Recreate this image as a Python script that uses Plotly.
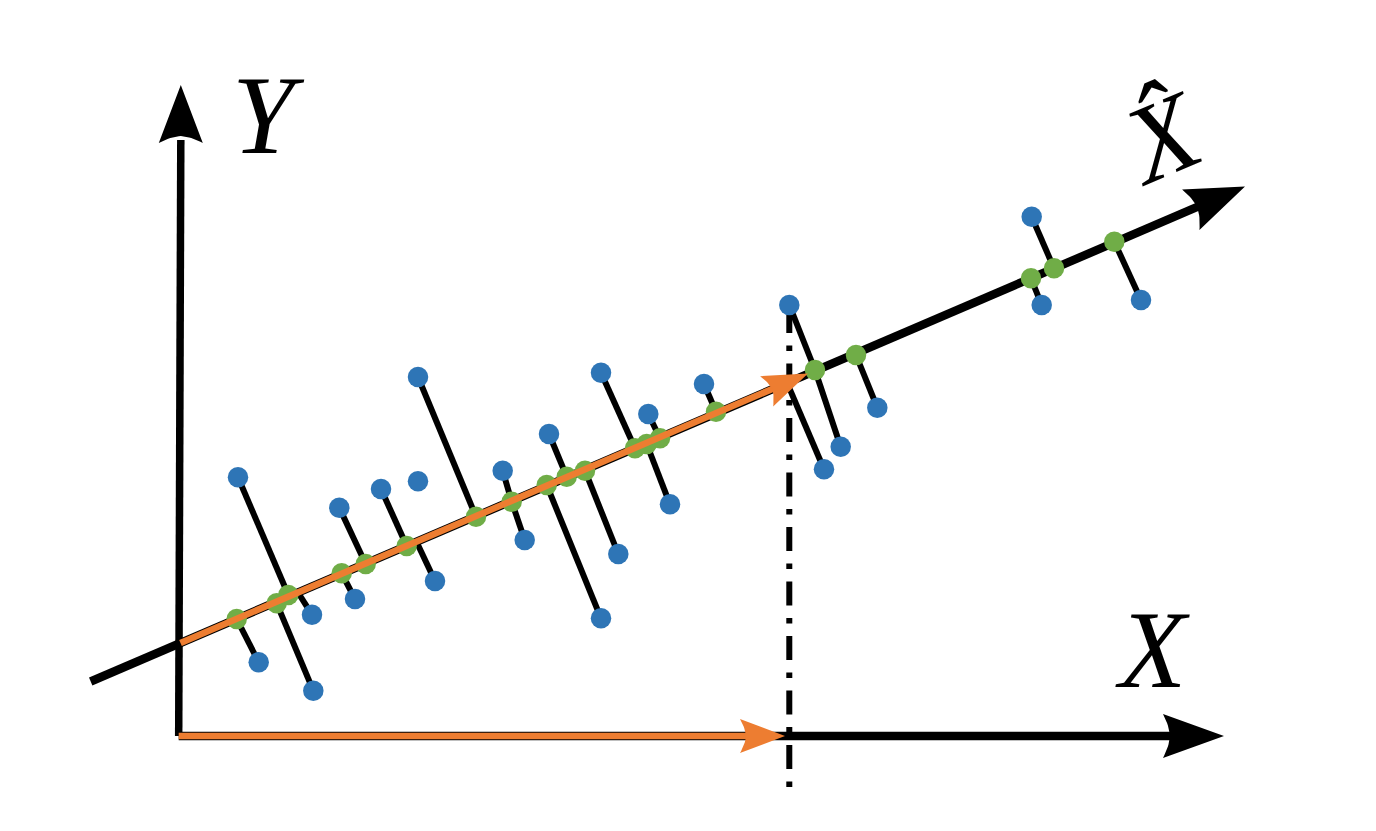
import math
import plotly.graph_objects as go

BLUE = "#2E75B6"
GREEN = "#70AD47"
ORANGE = "#ED7D31"
BLACK = "#000000"

# ---- data (diagram coordinates, y grows downward) ----
blue_x = [238.0, 258.7, 313.3, 312.0, 339.3, 355.0, 381.0, 435.0, 418.0, 418.0,
          502.7, 524.7, 549.0, 601.0, 601.0, 618.3, 648.3, 670.0, 704.0, 789.3,
          840.7, 824.0, 877.3, 1031.7, 1041.7, 1141.0]
blue_y = [477.3, 662.3, 690.7, 614.7, 507.7, 599.0, 489.0, 581.0, 377.0, 481.3,
          470.7, 540.0, 434.0, 618.3, 372.7, 554.0, 414.0, 504.3, 384.0, 305.0,
          446.7, 469.3, 407.7, 216.7, 305.0, 300.0]

# projected points shown as green dots
green_x = [236.7, 276.7, 288.3, 341.7, 365.7, 406.7, 476.0, 511.7, 546.7, 566.7,
           585.0, 635.0, 646.7, 660.0, 716.0, 815.0, 856.0, 1031.0, 1054.0, 1114.3]
green_y = [619.0, 603.3, 595.0, 573.3, 564.0, 546.0, 516.7, 501.7, 485.0, 476.7,
           470.7, 448.3, 444.0, 438.3, 411.7, 370.0, 355.0, 278.3, 268.3, 241.7]

# projection feet without a visible dot (indices 20, 21, 22 in the combined list)
bare_foot_x = [298.0, 416.5, 787.0]
bare_foot_y = [592.5, 541.7, 382.6]

# which foot each blue point connects to (None = no projection line)
blue_link = [2, 0, 1, 20, 4, 3, 5, 21, 6, None,
             7, 7, 9, 8, 11, 10, 13, 12, 14, 15,
             15, 22, 16, 18, 17, 19]

# axes
y_axis_x = [178.7, 179.2, 180.8]
y_axis_y = [736.0, 435.0, 140.0]
y_axis_tip = (180.8, 85.0)

x_axis_x = [178.7, 1170.0]
x_axis_y = [736.0, 736.0]
x_axis_tip = (1224.0, 736.0)

pc_start = (90.7, 681.5)
pc_tip = (1245.0, 186.5)

orange_x_start = (178.7, 736.0)
orange_x_tip = (785.0, 736.0)
orange_pc_start = (180.5, 642.9)
orange_pc_tip = (808.0, 373.6)

drop_x = [789.3, 789.3]
drop_y = [309.0, 787.0]

labels = ["<i>Y</i>", "<i>X</i>", "<i>X̂</i>"]
label_x = [268, 1152, 1162]
label_y = [115, 650, 138]
label_angle = [0, 0, -23]
label_size = [112, 110, 110]


def unit(dx, dy):
    n = math.hypot(dx, dy)
    return dx / n, dy / n


def arrow_head(tip, frm, length, half_w, notch, n=10):
    ux, uy = unit(tip[0] - frm[0], tip[1] - frm[1])
    px, py = -uy, ux
    bx, by = tip[0] - length * ux, tip[1] - length * uy
    lx, ly = bx + half_w * px, by + half_w * py
    rx, ry = bx - half_w * px, by - half_w * py
    ix, iy = bx + notch * ux, by + notch * uy
    xs, ys = [tip[0], lx], [tip[1], ly]

    def bez(p0, c, p1):
        out = []
        for k in range(1, n + 1):
            t = k / n
            out.append(((1 - t) ** 2 * p0[0] + 2 * (1 - t) * t * c[0] + t * t * p1[0],
                        (1 - t) ** 2 * p0[1] + 2 * (1 - t) * t * c[1] + t * t * p1[1]))
        return out

    cl = (bx + 0.45 * half_w * px + 0.9 * notch * ux, by + 0.45 * half_w * py + 0.9 * notch * uy)
    cr = (bx - 0.45 * half_w * px + 0.9 * notch * ux, by - 0.45 * half_w * py + 0.9 * notch * uy)
    for (x, y) in bez((lx, ly), cl, (ix, iy)):
        xs.append(x); ys.append(y)
    for (x, y) in bez((ix, iy), cr, (rx, ry)):
        xs.append(x); ys.append(y)
    xs.append(tip[0]); ys.append(tip[1])
    return xs, ys, (ix, iy), (ux, uy)


def head_trace(tip, frm, length, half_w, notch, color):
    xs, ys, inner, u = arrow_head(tip, frm, length, half_w, notch)
    return go.Scatter(x=xs, y=ys, mode="lines", fill="toself", fillcolor=color,
                      line=dict(width=0, color=color), hoverinfo="skip"), inner, u


fig = go.Figure()

# projection segments
foot_x = green_x + bare_foot_x
foot_y = green_y + bare_foot_y
sx, sy = [], []
for bx_, by_, link in zip(blue_x, blue_y, blue_link):
    if link is None:
        continue
    sx += [bx_, foot_x[link], None]
    sy += [by_, foot_y[link], None]
fig.add_trace(go.Scatter(x=sx, y=sy, mode="lines", line=dict(color=BLACK, width=6),
                         hoverinfo="skip"))

# dash-dot drop line
fig.add_trace(go.Scatter(x=drop_x, y=drop_y, mode="lines",
                         line=dict(color=BLACK, width=6, dash="24px,12.5px,5.5px,12.5px"),
                         hoverinfo="skip"))

# principal axis (X-hat)
h, inner, u = head_trace(pc_tip, pc_start, 59, 22, 7, BLACK)
fig.add_trace(go.Scatter(x=[pc_start[0], inner[0] + 2 * u[0]], y=[pc_start[1], inner[1] + 2 * u[1]],
                         mode="lines", line=dict(color=BLACK, width=8.5), hoverinfo="skip"))
fig.add_trace(h)

# Y axis
h, inner, u = head_trace(y_axis_tip, (y_axis_x[-1], y_axis_y[-1] + 10), 58, 22, 7, BLACK)
fig.add_trace(go.Scatter(x=y_axis_x, y=y_axis_y, mode="lines",
                         line=dict(color=BLACK, width=7.5), hoverinfo="skip"))
fig.add_trace(h)

# X axis
h, inner, u = head_trace(x_axis_tip, (x_axis_x[0], x_axis_y[0]), 61, 22, 7, BLACK)
fig.add_trace(go.Scatter(x=x_axis_x, y=x_axis_y, mode="lines",
                         line=dict(color=BLACK, width=8.3), hoverinfo="skip"))
fig.add_trace(h)

# green projected points
fig.add_trace(go.Scatter(x=green_x, y=green_y, mode="markers",
                         marker=dict(color=GREEN, size=20.5, line=dict(width=0)),
                         hoverinfo="skip"))
# blue data points
fig.add_trace(go.Scatter(x=blue_x, y=blue_y, mode="markers",
                         marker=dict(color=BLUE, size=20.5, line=dict(width=0)),
                         hoverinfo="skip"))

# orange vectors
h, inner, u = head_trace(orange_x_tip, orange_x_start, 45, 17, 6, ORANGE)
fig.add_trace(go.Scatter(x=[orange_x_start[0], inner[0] + 2 * u[0]],
                         y=[orange_x_start[1], inner[1] + 2 * u[1]], mode="lines",
                         line=dict(color=ORANGE, width=6.5), hoverinfo="skip"))
fig.add_trace(h)

h, inner, u = head_trace(orange_pc_tip, orange_pc_start, 45, 16.5, 6, ORANGE)
fig.add_trace(go.Scatter(x=[orange_pc_start[0], inner[0] + 2 * u[0]],
                         y=[orange_pc_start[1], inner[1] + 2 * u[1]], mode="lines",
                         line=dict(color=ORANGE, width=6.5), hoverinfo="skip"))
fig.add_trace(h)

for t, x, y, a, s in zip(labels, label_x, label_y, label_angle, label_size):
    fig.add_annotation(x=x, y=y, text=t, showarrow=False, textangle=a,
                       xanchor="center", yanchor="middle",
                       font=dict(family="Liberation Serif", size=s, color=BLACK))

fig.update_layout(
    width=1376, height=831, autosize=False,
    margin=dict(l=0, r=0, t=0, b=0, pad=0),
    paper_bgcolor="white", plot_bgcolor="white",
    showlegend=False,
    xaxis=dict(range=[0, 1376], visible=False, fixedrange=True),
    yaxis=dict(range=[831, 0], visible=False, fixedrange=True),
)

fig.write_html("out.html", config={"displayModeBar": False},
               post_script="document.body.style.margin='0';document.body.style.overflow='hidden';")
